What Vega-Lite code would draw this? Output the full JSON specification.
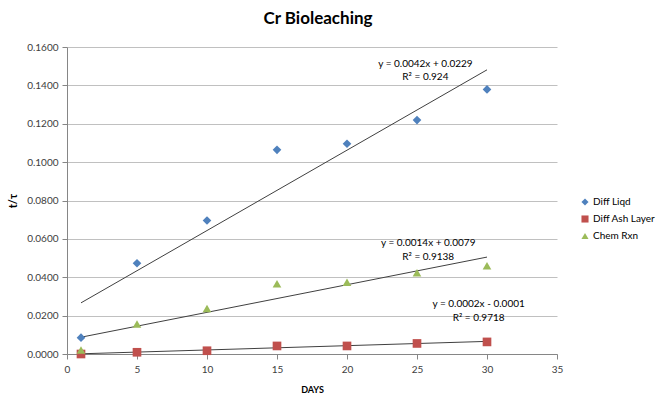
{
  "$schema": "https://vega.github.io/schema/vega-lite/v6.json",
  "width": 490,
  "height": 307,
  "autosize": {"type": "none"},
  "padding": {"left": 67, "top": 47, "right": 102, "bottom": 40},
  "background": "white",
  "title": {"text": "Cr Bioleaching", "anchor": "middle", "fontSize": 17, "fontWeight": "bold", "font": "Lato", "color": "#000000", "offset": 14, "dx": 6},
  "config": {
    "view": {"stroke": null},
    "font": "Lato",
    "axis": {"labelFont": "Lato", "titleFont": "Lato", "labelColor": "#404040", "titleColor": "#000000", "domainColor": "#868686", "tickColor": "#868686", "gridColor": "#C0C0C0", "labelFontSize": 10, "tickSize": 5, "labelFlush": false}
  },
  "datasets": {
    "pts": [
      {"series": "Diff Liqd", "days": 1, "val": 0.0085},
      {"series": "Diff Liqd", "days": 5, "val": 0.0473},
      {"series": "Diff Liqd", "days": 10, "val": 0.0696},
      {"series": "Diff Liqd", "days": 15, "val": 0.1064},
      {"series": "Diff Liqd", "days": 20, "val": 0.1096},
      {"series": "Diff Liqd", "days": 25, "val": 0.1219},
      {"series": "Diff Liqd", "days": 30, "val": 0.1379},
      {"series": "Diff Ash Layer", "days": 1, "val": 0.0000},
      {"series": "Diff Ash Layer", "days": 5, "val": 0.0009},
      {"series": "Diff Ash Layer", "days": 10, "val": 0.0017},
      {"series": "Diff Ash Layer", "days": 15, "val": 0.0042},
      {"series": "Diff Ash Layer", "days": 20, "val": 0.0042},
      {"series": "Diff Ash Layer", "days": 25, "val": 0.0055},
      {"series": "Diff Ash Layer", "days": 30, "val": 0.0063},
      {"series": "Chem Rxn", "days": 1, "val": 0.0021},
      {"series": "Chem Rxn", "days": 5, "val": 0.0157},
      {"series": "Chem Rxn", "days": 10, "val": 0.0237},
      {"series": "Chem Rxn", "days": 15, "val": 0.0366},
      {"series": "Chem Rxn", "days": 20, "val": 0.0374},
      {"series": "Chem Rxn", "days": 25, "val": 0.0423},
      {"series": "Chem Rxn", "days": 30, "val": 0.0460}
    ],
    "notes": [
      {"days": 25.6, "val": 0.1513, "label": "y = 0.0042x + 0.0229"},
      {"days": 25.6, "val": 0.1443, "label": "R² = 0.924"},
      {"days": 25.8, "val": 0.0576, "label": "y = 0.0014x + 0.0079"},
      {"days": 25.8, "val": 0.0503, "label": "R² = 0.9138"},
      {"days": 29.4, "val": 0.0261, "label": "y = 0.0002x - 0.0001"},
      {"days": 29.4, "val": 0.0186, "label": "R² = 0.9718"}
    ]
  },
  "layer": [
    {
      "data": {"name": "pts"},
      "transform": [{"regression": "val", "on": "days", "groupby": ["series"]}],
      "mark": {"type": "line", "color": "#404040", "strokeWidth": 1},
      "encoding": {
        "x": {"field": "days", "type": "quantitative"},
        "y": {"field": "val", "type": "quantitative"},
        "detail": {"field": "series"}
      }
    },
    {
      "data": {"name": "pts"},
      "mark": {"type": "point", "filled": true, "opacity": 1},
      "encoding": {
        "x": {"field": "days", "type": "quantitative", "scale": {"domain": [0, 35]}, "axis": {"values": [0, 5, 10, 15, 20, 25, 30, 35], "tickCount": 20, "grid": false, "title": "DAYS", "titleFontSize": 9, "titleFontWeight": "bold", "titlePadding": 11, "labelPadding": 5}},
        "y": {"field": "val", "type": "quantitative", "scale": {"domain": [0, 0.16]}, "axis": {"values": [0, 0.02, 0.04, 0.06, 0.08, 0.1, 0.12, 0.14, 0.16], "tickCount": 20, "format": ".4f", "grid": true, "title": "t/τ", "titleFontSize": 11, "titleFontWeight": "bold", "titlePadding": 8, "labelPadding": 4}},
        "color": {"field": "series", "type": "nominal", "scale": {"domain": ["Diff Liqd", "Diff Ash Layer", "Chem Rxn"], "range": ["#4F81BD", "#C0504D", "#9BBB59"]}, "legend": {"title": null, "orient": "none", "legendX": 513, "legendY": 150, "labelFontSize": 10, "labelColor": "#000000", "symbolSize": 50, "rowPadding": 7, "labelOffset": 3}},
        "shape": {"field": "series", "type": "nominal", "scale": {"domain": ["Diff Liqd", "Diff Ash Layer", "Chem Rxn"], "range": ["diamond", "square", "triangle-up"]}},
        "size": {"value": 75}
      }
    },
    {
      "data": {"name": "notes"},
      "mark": {"type": "text", "fontSize": 10, "color": "#000000", "align": "center", "baseline": "middle"},
      "encoding": {
        "x": {"field": "days", "type": "quantitative"},
        "y": {"field": "val", "type": "quantitative"},
        "text": {"field": "label"}
      }
    }
  ]
}
